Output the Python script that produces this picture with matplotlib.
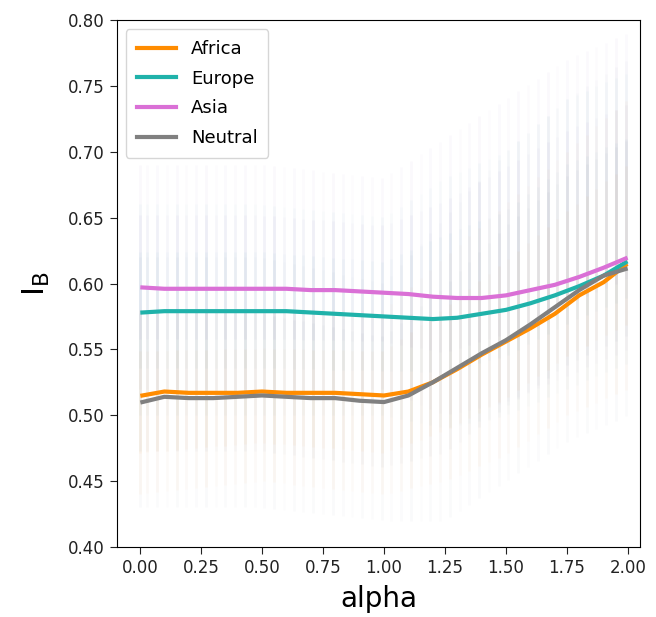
import numpy as np
import matplotlib
matplotlib.use("Agg")
import matplotlib.pyplot as plt

# ---- smoothed curves ----
x_curve = [0.01, 0.1, 0.2, 0.3, 0.4, 0.5, 0.6, 0.7, 0.8, 0.9, 1.0,
           1.1, 1.2, 1.3, 1.4, 1.5, 1.6, 1.7, 1.8, 1.9, 1.99]
africa = [0.515, 0.518, 0.517, 0.517, 0.517, 0.518, 0.517, 0.517, 0.517, 0.516, 0.515,
          0.518, 0.525, 0.535, 0.546, 0.556, 0.566, 0.577, 0.591, 0.601, 0.614]
europe = [0.578, 0.579, 0.579, 0.579, 0.579, 0.579, 0.579, 0.578, 0.577, 0.576, 0.575,
          0.574, 0.573, 0.574, 0.577, 0.580, 0.585, 0.591, 0.598, 0.606, 0.616]
asia = [0.597, 0.596, 0.596, 0.596, 0.596, 0.596, 0.596, 0.595, 0.595, 0.594, 0.593,
        0.592, 0.590, 0.589, 0.589, 0.591, 0.595, 0.599, 0.605, 0.612, 0.619]
neutral = [0.510, 0.514, 0.513, 0.513, 0.514, 0.515, 0.514, 0.513, 0.513, 0.511, 0.510,
           0.515, 0.525, 0.536, 0.547, 0.557, 0.569, 0.582, 0.595, 0.606, 0.611]

series_names = ["Africa", "Europe", "Asia", "Neutral"]
series_colors = ["#ff8c00", "#20b2aa", "#da70d6", "#808080"]
cloud_colors = ["#ff9a30", "#5fb0c0", "#9a7fc8", "#8090a8"]

# ---- faint scatter streaks (approximate column positions and vertical extents) ----
streak_x = [0.00, 0.03, 0.07, 0.11, 0.15, 0.19, 0.23, 0.27, 0.31, 0.35, 0.39, 0.43,
            0.47, 0.51, 0.55, 0.59, 0.63, 0.67, 0.71, 0.75, 0.79, 0.83, 0.87, 0.91,
            0.95, 0.99, 1.03, 1.07, 1.11, 1.15, 1.19, 1.23, 1.27, 1.31, 1.35, 1.39,
            1.43, 1.47, 1.51, 1.55, 1.59, 1.63, 1.67, 1.71, 1.75, 1.79, 1.83, 1.87,
            1.91, 1.95, 1.99]
streak_strength = [1.2, 0.8, 1.0, 0.6, 1.1, 0.7, 0.9, 1.2, 0.6, 1.0, 0.8, 1.1,
                   0.7, 0.9, 1.2, 0.6, 1.0, 0.8, 1.1, 0.7, 1.2, 0.9, 0.6, 1.0,
                   0.8, 1.1, 0.7, 0.9, 1.2, 0.6, 1.0, 0.8, 1.1, 0.7, 0.9, 1.2,
                   0.6, 1.0, 0.8, 1.1, 0.7, 0.9, 1.2, 0.6, 1.0, 0.8, 1.1, 0.7,
                   0.9, 1.2, 1.0]
band_x = [0.0, 0.5, 1.0, 1.25, 1.5, 1.75, 2.0]
band_lo = {
    "Africa": [0.44, 0.45, 0.44, 0.45, 0.47, 0.50, 0.52],
    "Europe": [0.50, 0.50, 0.50, 0.49, 0.50, 0.52, 0.54],
    "Asia": [0.52, 0.52, 0.52, 0.50, 0.51, 0.53, 0.55],
    "Neutral": [0.43, 0.43, 0.42, 0.42, 0.45, 0.48, 0.50],
}
band_hi = {
    "Africa": [0.58, 0.58, 0.58, 0.62, 0.66, 0.70, 0.74],
    "Europe": [0.66, 0.66, 0.65, 0.68, 0.70, 0.74, 0.76],
    "Asia": [0.69, 0.69, 0.68, 0.71, 0.74, 0.77, 0.79],
    "Neutral": [0.62, 0.62, 0.60, 0.65, 0.70, 0.74, 0.77],
}

fig = plt.figure(figsize=(6.56, 6.17), dpi=100)
ax = fig.add_axes([0.178, 0.1135, 0.798, 0.854])

sx = np.array(streak_x)
for name, col in zip(series_names, cloud_colors):
    lo = np.interp(sx, band_x, band_lo[name])
    hi = np.interp(sx, band_x, band_hi[name])
    mid = (lo + hi) / 2
    half = (hi - lo) / 2
    for xi, l, h, m, hf, s in zip(sx, lo, hi, mid, half, streak_strength):
        ax.vlines(xi, l, h, colors=col, linewidth=2.0, alpha=0.035 * s)
        ax.vlines(xi, m - hf * 0.55, m + hf * 0.55, colors=col, linewidth=2.0, alpha=0.05 * s)

for name, col, ys in zip(series_names, series_colors, [africa, europe, asia, neutral]):
    ax.plot(x_curve, ys, color=col, linewidth=3, label=name)

ax.set_xlim(-0.095, 2.05)
ax.set_ylim(0.40, 0.80)
ax.set_xticks([0.0, 0.25, 0.5, 0.75, 1.0, 1.25, 1.5, 1.75, 2.0])
ax.set_yticks([0.40, 0.45, 0.50, 0.55, 0.60, 0.65, 0.70, 0.75, 0.80])
ax.xaxis.set_major_formatter(matplotlib.ticker.FormatStrFormatter("%.2f"))
ax.yaxis.set_major_formatter(matplotlib.ticker.FormatStrFormatter("%.2f"))
ax.tick_params(labelsize=12, colors="#222222", length=5)
ax.set_xlabel("alpha", fontsize=20, labelpad=6)
ax.set_ylabel(r"$\mathrm{I_B}$", fontsize=22, labelpad=12)

leg = ax.legend(loc="upper left", fontsize=13, frameon=True, handlelength=2.2,
                labelspacing=0.65, borderpad=0.6)
leg.get_frame().set_edgecolor("#cccccc")

fig.savefig("out.png", dpi=100)
